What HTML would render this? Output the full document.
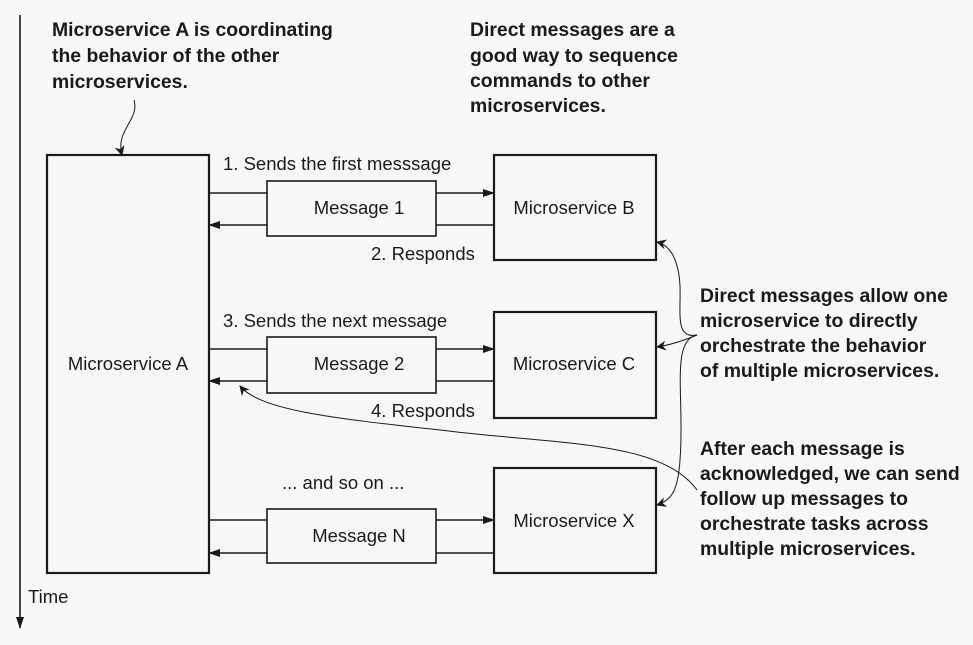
<!DOCTYPE html>
<html><head><meta charset="utf-8"><style>
html,body{margin:0;padding:0;background:#f8f8f8;}
svg{display:block}
.b{font-family:"Liberation Sans",sans-serif;font-weight:bold;font-size:19.4px;fill:#1a1a1a}
.n{font-family:"Liberation Sans",sans-serif;font-size:18.5px;fill:#1a1a1a}
</style></head><body>
<svg width="973" height="645" viewBox="0 0 973 645" xmlns="http://www.w3.org/2000/svg">
<defs>
<marker id="a" markerWidth="12" markerHeight="8" refX="11" refY="4" orient="auto" markerUnits="userSpaceOnUse">
<path d="M0,0 L12,4 L0,8 Z" fill="#1a1a1a"/></marker>
<marker id="c" markerWidth="10" markerHeight="10" refX="9" refY="5" orient="auto" markerUnits="userSpaceOnUse">
<path d="M0,0 L10,5 L0,10 L3,5 Z" fill="#1a1a1a"/></marker>
</defs>
<rect width="973" height="645" fill="#f8f8f8"/>
<g stroke="#1a1a1a" fill="none" stroke-width="1.6">
<line x1="20" y1="15" x2="20" y2="628" marker-end="url(#a)"/>
<rect x="47" y="155" width="162" height="418" stroke-width="2.2"/>
<rect x="494" y="155" width="162" height="105" stroke-width="2.2"/>
<rect x="494" y="312" width="162" height="106" stroke-width="2.2"/>
<rect x="494" y="468" width="162" height="105" stroke-width="2.2"/>
<rect x="267" y="181" width="169" height="55"/>
<rect x="267" y="337" width="169" height="56"/>
<rect x="267" y="509" width="169" height="54"/>
<line x1="209" y1="193" x2="267" y2="193"/><line x1="436" y1="193" x2="494" y2="193" marker-end="url(#a)"/>
<line x1="494" y1="225" x2="436" y2="225"/><line x1="267" y1="225" x2="209" y2="225" marker-end="url(#a)"/>
<line x1="209" y1="349" x2="267" y2="349"/><line x1="436" y1="349" x2="494" y2="349" marker-end="url(#a)"/>
<line x1="494" y1="381" x2="436" y2="381"/><line x1="267" y1="381" x2="209" y2="381" marker-end="url(#a)"/>
<line x1="209" y1="520" x2="267" y2="520"/><line x1="436" y1="520" x2="494" y2="520" marker-end="url(#a)"/>
<line x1="494" y1="553" x2="436" y2="553"/><line x1="267" y1="553" x2="209" y2="553" marker-end="url(#a)"/>
<path d="M134,100 C140,120 115,130 122,155" stroke-width="1" marker-end="url(#c)"/>
<path d="M697,335 C670,340 685,300 678,270 C675,255 668,245 657,242" stroke-width="1" marker-end="url(#c)"/>
<path d="M697,335 C685,340 670,345 657,347" stroke-width="1" marker-end="url(#c)"/>
<path d="M697,335 C670,340 685,400 680,460 C678,490 672,500 657,505" stroke-width="1" marker-end="url(#c)"/>
<path d="M697,490 C660,440 560,445 440,430 C330,418 260,410 240,386" stroke-width="1" marker-end="url(#c)"/>
</g>
<g class="b">
<text x="52" y="36">Microservice A is coordinating</text>
<text x="52" y="62">the behavior of the other</text>
<text x="52" y="88">microservices.</text>
<text x="470" y="36">Direct messages are a</text>
<text x="470" y="62">good way to sequence</text>
<text x="470" y="87">commands to other</text>
<text x="470" y="112">microservices.</text>
<text x="700" y="302">Direct messages allow one</text>
<text x="700" y="327">microservice to directly</text>
<text x="700" y="352">orchestrate the behavior</text>
<text x="700" y="377">of multiple microservices.</text>
<text x="700" y="455">After each message is</text>
<text x="700" y="480">acknowledged, we can send</text>
<text x="700" y="505">follow up messages to</text>
<text x="700" y="530">orchestrate tasks across</text>
<text x="700" y="555">multiple microservices.</text>
</g>
<g class="n">
<text x="223" y="170">1. Sends the first messsage</text>
<text x="371" y="260">2. Responds</text>
<text x="223" y="327">3. Sends the next message</text>
<text x="371" y="417">4. Responds</text>
<text x="282" y="489">... and so on ...</text>
<text x="359" y="214" text-anchor="middle">Message 1</text>
<text x="359" y="370" text-anchor="middle">Message 2</text>
<text x="359" y="542" text-anchor="middle">Message N</text>
<text x="574" y="214" text-anchor="middle">Microservice B</text>
<text x="574" y="370" text-anchor="middle">Microservice C</text>
<text x="574" y="527" text-anchor="middle">Microservice X</text>
<text x="128" y="370" text-anchor="middle">Microservice A</text>
<text x="28" y="603">Time</text>
</g>
</svg>
</body></html>
